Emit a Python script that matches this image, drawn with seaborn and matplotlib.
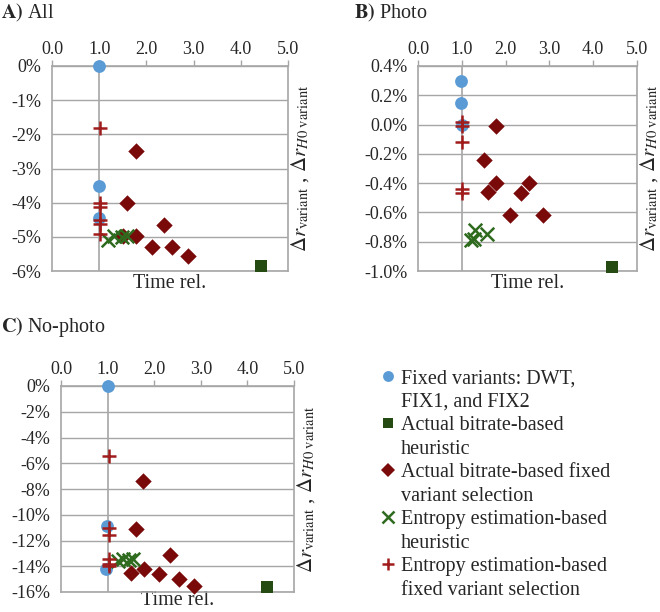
import matplotlib
matplotlib.use("Agg")
import matplotlib.pyplot as plt
from matplotlib.lines import Line2D
import pandas as pd
import seaborn as sns
from matplotlib.ticker import FuncFormatter, MultipleLocator

# ---- data (y values in %) ----
series_names = [
    ["Fixed variants: DWT,", "FIX1, and FIX2"],
    ["Actual bitrate-based", "heuristic"],
    ["Actual bitrate-based fixed", "variant selection"],
    ["Entropy estimation-based", "heuristic"],
    ["Entropy estimation-based", "fixed variant selection"],
]

# A) All
a_fixed_x = [1.0, 1.0, 1.0]
a_fixed_y = [0.0, -3.5, -4.45]
a_heur_x = [4.42]
a_heur_y = [-5.85]
a_abfix_x = [1.79, 1.59, 2.37, 1.50, 1.79, 2.11, 2.55, 2.88]
a_abfix_y = [-2.49, -4.0, -4.66, -4.97, -4.97, -5.29, -5.31, -5.56]
a_entheur_x = [1.18, 1.31, 1.49, 1.58]
a_entheur_y = [-5.10, -4.97, -5.0, -4.97]
a_entfix_x = [1.01, 1.01, 1.01, 1.01, 1.01, 1.01]
a_entfix_y = [-1.80, -4.0, -4.12, -4.5, -4.62, -4.92]

# B) Photo
b_fixed_x = [0.99, 0.99, 1.0]
b_fixed_y = [0.30, 0.147, -0.005]
b_heur_x = [4.43]
b_heur_y = [-0.973]
b_abfix_x = [1.79, 1.50, 1.79, 1.60, 2.54, 2.35, 2.10, 2.86]
b_abfix_y = [-0.012, -0.24, -0.40, -0.46, -0.40, -0.47, -0.62, -0.62]
b_entheur_x = [1.22, 1.28, 1.30, 1.57]
b_entheur_y = [-0.79, -0.78, -0.72, -0.75]
b_entfix_x = [1.01, 1.01, 1.01, 1.01, 1.01]
b_entfix_y = [0.02, -0.01, -0.12, -0.44, -0.47]

# C) No-photo
c_fixed_x = [1.0, 0.98, 0.97]
c_fixed_y = [0.0, -10.9, -14.2]
c_heur_x = [4.41]
c_heur_y = [-15.6]
c_abfix_x = [1.77, 1.61, 2.34, 1.50, 1.78, 2.11, 2.54, 2.85]
c_abfix_y = [-7.4, -11.1, -13.1, -14.5, -14.2, -14.6, -15.0, -15.5]
c_entheur_x = [1.23, 1.32, 1.45, 1.55]
c_entheur_y = [-13.6, -13.4, -13.5, -13.4]
c_entfix_x = [1.02, 1.02, 1.02, 1.02, 1.02, 1.02]
c_entfix_y = [-5.4, -11.0, -11.6, -13.4, -13.8, -14.0]

panels = {
    "A": [(a_fixed_x, a_fixed_y), (a_heur_x, a_heur_y), (a_abfix_x, a_abfix_y),
          (a_entheur_x, a_entheur_y), (a_entfix_x, a_entfix_y)],
    "B": [(b_fixed_x, b_fixed_y), (b_heur_x, b_heur_y), (b_abfix_x, b_abfix_y),
          (b_entheur_x, b_entheur_y), (b_entfix_x, b_entfix_y)],
    "C": [(c_fixed_x, c_fixed_y), (c_heur_x, c_heur_y), (c_abfix_x, c_abfix_y),
          (c_entheur_x, c_entheur_y), (c_entfix_x, c_entfix_y)],
}

# marker styles per series
styles = [
    dict(marker="o", color="#5B9BD5", s=85, linewidth=0),
    dict(marker="s", color="#254A12", s=70, linewidth=0),
    dict(marker="D", color="#7A0A0A", s=70, linewidth=0),
    dict(marker="x", color="#2F6B1F", s=95, linewidth=1.8),
    dict(marker="+", color="#A01C1C", s=115, linewidth=1.8),
]

sns.set_style("white")
plt.rcParams["font.family"] = ["Liberation Serif", "DejaVu Serif"]
plt.rcParams["mathtext.fontset"] = "stix"

fig = plt.figure(figsize=(6.6, 6.12), dpi=100)

W, H = 660, 612
def px_axes(left, top, right, bottom):
    return fig.add_axes([left / W, 1 - bottom / H, (right - left) / W, (bottom - top) / H])

axA = px_axes(52, 66, 288, 271)
axB = px_axes(418, 66, 637, 271)
axC = px_axes(61, 386, 294, 592)

grid_col = "#A6A6A6"
ylabel = r"$\Delta r_{\mathrm{variant}}$ , $\Delta r_{H0\ \mathrm{variant}}$"

def setup(ax, key, ylim, ystep, decimals, xlabelpad=2):
    for (xs, ys), st in zip(panels[key], styles):
        df = pd.DataFrame({"x": xs, "y": ys})
        sns.scatterplot(data=df, x="x", y="y", ax=ax, legend=False,
                        clip_on=False, zorder=3, **st)
    ax.set_xlim(0, 5)
    ax.set_ylim(*ylim)
    ax.xaxis.set_major_locator(MultipleLocator(1))
    ax.yaxis.set_major_locator(MultipleLocator(ystep))
    ax.xaxis.tick_top()
    ax.xaxis.set_major_formatter(FuncFormatter(lambda v, p: f"{v:.1f}"))

    def yfmt(v, p):
        s = f"{v:.{decimals}f}"
        if s.startswith("-") and float(s) == 0:
            s = s[1:]
        return s + "%"
    ax.yaxis.set_major_formatter(FuncFormatter(yfmt))
    ax.tick_params(axis="x", top=True, length=4, width=1, color=grid_col,
                   labelsize=13, pad=2)
    ax.tick_params(axis="y", left=False, labelsize=13, pad=4)
    ax.grid(axis="y", color=grid_col, linewidth=1)
    ax.grid(axis="x", visible=False)
    ax.axvline(1.0, color=grid_col, linewidth=1.2, zorder=1)
    for sp in ax.spines.values():
        sp.set_color(grid_col)
        sp.set_linewidth(1.2)
    ax.set_xlabel("Time rel.", fontsize=14.5, labelpad=xlabelpad)
    ax.xaxis.set_label_position("bottom")
    ax.set_ylabel(ylabel, fontsize=15, rotation=90, labelpad=1)
    ax.yaxis.set_label_position("right")

setup(axA, "A", (-6, 0), 1, 0)
setup(axB, "B", (-1.0, 0.4), 0.2, 1)
setup(axC, "C", (-16, 0), 2, 0, xlabelpad=-1)

fig.text(1 / W, 1 - 13 / H, r"$\mathbf{A)}$ All", fontsize=14.5, va="center")
fig.text(354 / W, 1 - 13 / H, r"$\mathbf{B)}$ Photo", fontsize=14.5, va="center")
fig.text(1 / W, 1 - 327 / H, r"$\mathbf{C)}$ No-photo", fontsize=14.5, va="center")

# legend: marker on the first line of each two-line label
handles, labels = [], []
for st, (line1, line2) in zip(styles, series_names):
    msize = st["s"] ** 0.5 * 0.85
    handles.append(Line2D([], [], linestyle="none", marker=st["marker"], color=st["color"],
                          markersize=msize, markeredgewidth=st["linewidth"] or 0))
    labels.append(line1)
    handles.append(Line2D([], [], linestyle="none", marker=None))
    labels.append(line2)

fig.legend(handles, labels, loc="upper left", bbox_to_anchor=(380 / W, 1 - 369 / H),
           frameon=False, fontsize=14.5, labelspacing=0.22, handlelength=0.8,
           handletextpad=0.25, borderaxespad=0, borderpad=0)

fig.savefig("out.png", dpi=100)
